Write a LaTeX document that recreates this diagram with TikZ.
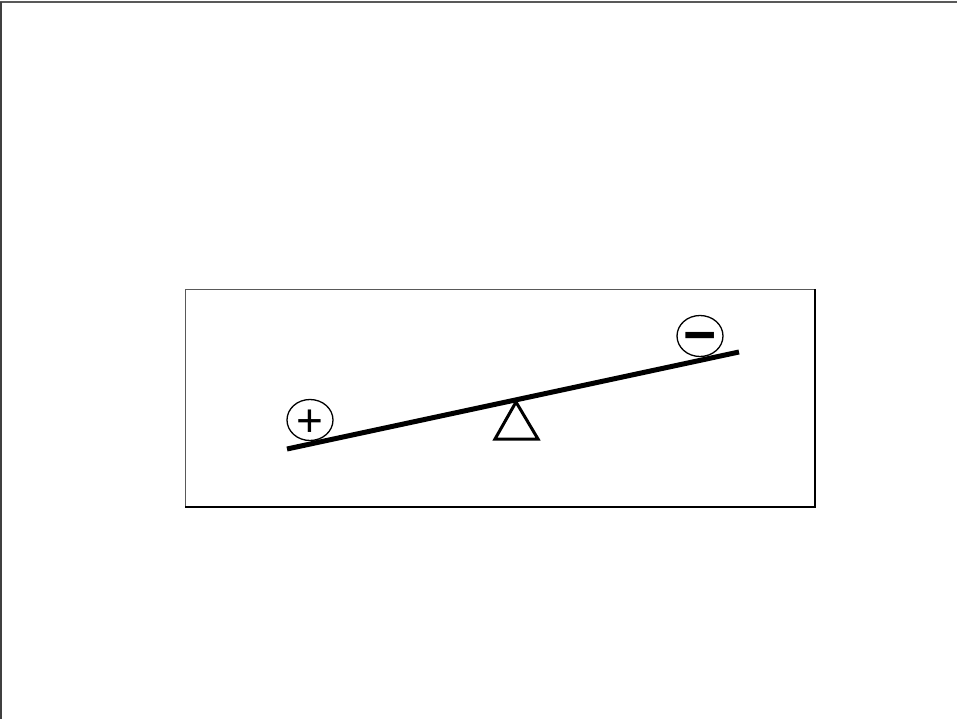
\documentclass[tikz,border=0pt]{standalone}
\usepackage{fontspec}
\setmainfont{Liberation Sans}
\usepackage{xcolor}
\colorlet{colFrame}{black!65}
\colorlet{colEdge}{black!75}
\usetikzlibrary{positioning, calc, shapes.geometric}

\begin{document}
\begin{tikzpicture}[x=1pt, y=-1pt,
		charge/.style={ellipse, draw, line width=1.3pt, minimum width=46pt, minimum height=41pt, inner sep=0pt},
		sign/.style={inner sep=0pt, text depth=0pt},
		beam/.style={line width=5pt},
		pivot/.style={line width=3pt, line join=miter}]
	\useasboundingbox (0,0) rectangle (957,719);
	% outer frame (only top and left edges show)
	\draw[colFrame, line width=1.5pt] (0,2) -- (957,2);
	\draw[colEdge, line width=1.8pt] (1,2) -- (1,719);
	% panel
	\draw[colFrame, line width=1pt] (185,507) -- (185,289) -- (815,289);
	\draw[line width=2pt] (185,507) -- (815,507) -- (815,289);
	% seesaw
	\coordinate (beamL) at (287,449);
	\coordinate (beamR) at (739,352);
	\draw[beam] (beamL) -- (beamR);
	\draw[pivot] (516,402) -- (538,439) -- (495,439) -- cycle;
	\node[charge, label={[sign, text height=33pt, font=\fontsize{46}{46}\selectfont]center:+}] (plus) at (310,420) {};
	\node[charge, label={[sign, text height=36pt, font=\fontsize{57}{57}\selectfont\bfseries]center:−}] (minus) at (700,336) {};
\end{tikzpicture}
\end{document}
